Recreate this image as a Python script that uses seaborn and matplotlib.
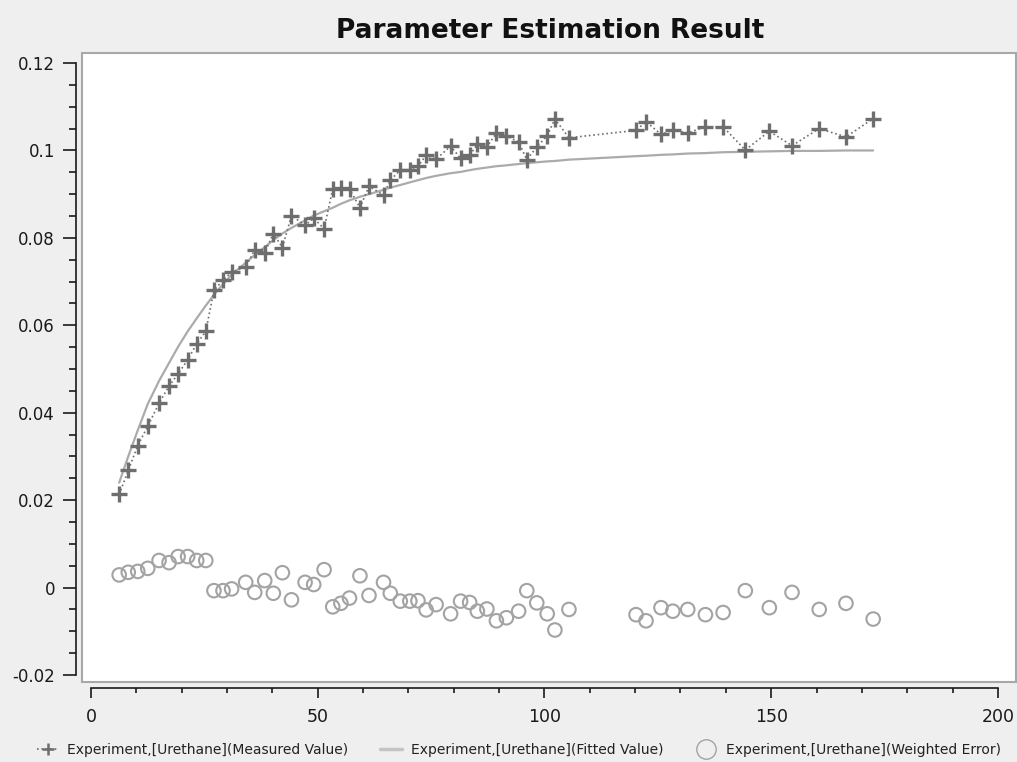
# Parameter estimation result: measured vs fitted urethane, plus weighted error
import numpy as np
import pandas as pd
import matplotlib
matplotlib.use("Agg")
import matplotlib.pyplot as plt
import matplotlib.ticker as mticker
from matplotlib.patches import Rectangle
from matplotlib.lines import Line2D
import seaborn as sns

# =========================
# DATA
# =========================
time = [6.2, 8.2, 10.3, 12.5, 15.0, 17.2, 19.2, 21.3, 23.3, 25.3,
        27.1, 29.1, 31.0, 34.1, 36.1, 38.3, 40.2, 42.2, 44.2, 47.2,
        49.1, 51.4, 53.3, 55.1, 57.0, 59.3, 61.3, 64.5, 66.0, 68.2,
        70.3, 72.1, 73.9, 76.1, 79.3, 81.5, 83.5, 85.2, 87.3, 89.4,
        91.6, 94.3, 96.1, 98.3, 100.6, 102.3, 105.4, 120.2, 122.4, 125.7,
        128.3, 131.6, 135.5, 139.4, 144.3, 149.6, 154.6, 160.6, 166.5, 172.5]

measured = [0.0213, 0.0268, 0.0325, 0.0369, 0.0422, 0.0461, 0.0489, 0.0521, 0.0558, 0.0586,
            0.0680, 0.0703, 0.0722, 0.0733, 0.0773, 0.0766, 0.0810, 0.0778, 0.0851, 0.0829,
            0.0845, 0.0821, 0.0912, 0.0914, 0.0912, 0.0869, 0.0918, 0.0898, 0.0932, 0.0955,
            0.0956, 0.0964, 0.0989, 0.0980, 0.1010, 0.0982, 0.0989, 0.1014, 0.1008, 0.1040,
            0.1033, 0.1020, 0.0979, 0.1008, 0.1034, 0.1072, 0.1029, 0.1046, 0.1066, 0.1037,
            0.1046, 0.1040, 0.1054, 0.1054, 0.1001, 0.1044, 0.1011, 0.1050, 0.1031, 0.1073]

fitted = [0.0240, 0.0300, 0.0360, 0.0420, 0.0473, 0.0514, 0.0551, 0.0586, 0.0616, 0.0645,
          0.0670, 0.0694, 0.0716, 0.0743, 0.0761, 0.0779, 0.0795, 0.0810, 0.0823, 0.0840,
          0.0851, 0.0861, 0.0869, 0.0878, 0.0886, 0.0894, 0.0900, 0.0910, 0.0915, 0.0921,
          0.0927, 0.0932, 0.0937, 0.0942, 0.0948, 0.0951, 0.0955, 0.0958, 0.0961, 0.0964,
          0.0966, 0.0969, 0.0971, 0.0973, 0.0975, 0.0976, 0.0979, 0.0987, 0.0988, 0.0990,
          0.0991, 0.0993, 0.0994, 0.0996, 0.0997, 0.0998, 0.0999, 0.0999, 0.1000, 0.1000]

weighted_error = [0.0029, 0.0035, 0.0037, 0.0044, 0.0062, 0.0057, 0.0071, 0.0071, 0.0062, 0.0062,
                  -0.0007, -0.0007, -0.0003, 0.0012, -0.0011, 0.0016, -0.0013, 0.0034, -0.0028, 0.0012,
                  0.0007, 0.0041, -0.0044, -0.0036, -0.0024, 0.0027, -0.0018, 0.0012, -0.0013, -0.0031,
                  -0.0031, -0.0030, -0.0051, -0.0039, -0.0060, -0.0031, -0.0034, -0.0054, -0.0049, -0.0076,
                  -0.0069, -0.0054, -0.0007, -0.0035, -0.0060, -0.0097, -0.0050, -0.0062, -0.0076, -0.0046,
                  -0.0054, -0.0050, -0.0062, -0.0057, -0.0007, -0.0046, -0.0011, -0.0050, -0.0036, -0.0072]

labels = ["Experiment,[Urethane](Measured Value)",
          "Experiment,[Urethane](Fitted Value)",
          "Experiment,[Urethane](Weighted Error)"]

df = pd.DataFrame({"time": time, "measured": measured,
                   "fitted": fitted, "error": weighted_error})

# =========================
# STYLE
# =========================
sns.set_style("white")
plt.rcParams["font.family"] = ["DejaVu Sans"]
plt.rcParams["axes.unicode_minus"] = False

meas_col = "#6e6e6e"
fit_col = "#ababab"
err_col = "#a3a3a3"

fig = plt.figure(figsize=(10.17, 7.62), dpi=100, facecolor="#efefef")
ax = fig.add_axes([82 / 1017, 80 / 762, 934 / 1017, 629 / 762])
ax.set_facecolor("white")

# =========================
# PLOT
# =========================
sns.lineplot(data=df, x="time", y="measured", ax=ax, color=meas_col,
             linestyle=":", linewidth=1.2, marker="+", markersize=12,
             markeredgewidth=2.4, markeredgecolor=meas_col,
             estimator=None, sort=False, zorder=3)
sns.lineplot(data=df, x="time", y="fitted", ax=ax, color=fit_col,
             linewidth=1.6, estimator=None, sort=False, zorder=2)
sns.scatterplot(data=df, x="time", y="error", ax=ax, marker="o", s=95,
                facecolors="none", edgecolor=err_col, linewidth=1.5, zorder=2)

# axis limits so the detached axes line up with the white plot area
ax.set_xlim(-2, 204)
ax.set_ylim(-0.0216, 0.1223)
ax.set_xlabel("")
ax.set_ylabel("")

ax.xaxis.set_major_locator(mticker.MultipleLocator(50))
ax.xaxis.set_minor_locator(mticker.MultipleLocator(10))
ax.yaxis.set_major_locator(mticker.MultipleLocator(0.02))
ax.yaxis.set_minor_locator(mticker.MultipleLocator(0.005))
ax.yaxis.set_major_formatter(mticker.FuncFormatter(lambda v, p: "%g" % round(v, 4)))

for side in ["top", "right"]:
    ax.spines[side].set_visible(False)
ax.spines["left"].set_position(("outward", 4))
ax.spines["left"].set_bounds(-0.02, 0.12)
ax.spines["bottom"].set_position(("outward", 4.5))
ax.spines["bottom"].set_bounds(0, 200)
for side in ["left", "bottom"]:
    ax.spines[side].set_color("#1a1a1a")
    ax.spines[side].set_linewidth(1.2)

ax.tick_params(axis="y", which="major", direction="out", length=9.5, width=1.2,
               pad=6, labelsize=12, colors="#1a1a1a", left=True)
ax.tick_params(axis="y", which="minor", direction="out", length=5.3, width=1.2,
               colors="#1a1a1a", left=True)
ax.tick_params(axis="x", which="major", direction="out", length=7.5, width=1.2,
               pad=7, labelsize=12.5, colors="#1a1a1a", bottom=True)
ax.tick_params(axis="x", which="minor", direction="out", length=3.5, width=1.2,
               colors="#1a1a1a", bottom=True)

# gray frame around the white plot area
ax.add_patch(Rectangle((0, 0), 1, 1, transform=ax.transAxes, fill=False,
                       edgecolor="#a8a8a8", lw=1.5, clip_on=False, zorder=1))

fig.text(0.541, 0.959, "Parameter Estimation Result", ha="center", va="center",
         fontsize=19, fontweight="bold", color="#111111")

# =========================
# LEGEND
# =========================
if ax.get_legend() is not None:
    ax.get_legend().remove()
handles = [
    Line2D([], [], color=meas_col, linestyle=":", lw=1.2, marker="+",
           markersize=9, mew=1.8),
    Line2D([], [], color="#c4c4c4", lw=2.5),
    Line2D([], [], color=err_col, linestyle="none", marker="o",
           markersize=14, markerfacecolor="none", mew=1.0),
]
fig.legend(handles, labels, loc="center", bbox_to_anchor=(0.51, 0.016),
           ncol=3, frameon=False, fontsize=10, handlelength=1.6,
           handletextpad=0.6, columnspacing=2.3, labelcolor="#222222")

fig.savefig("out.png", dpi=100, facecolor=fig.get_facecolor())
